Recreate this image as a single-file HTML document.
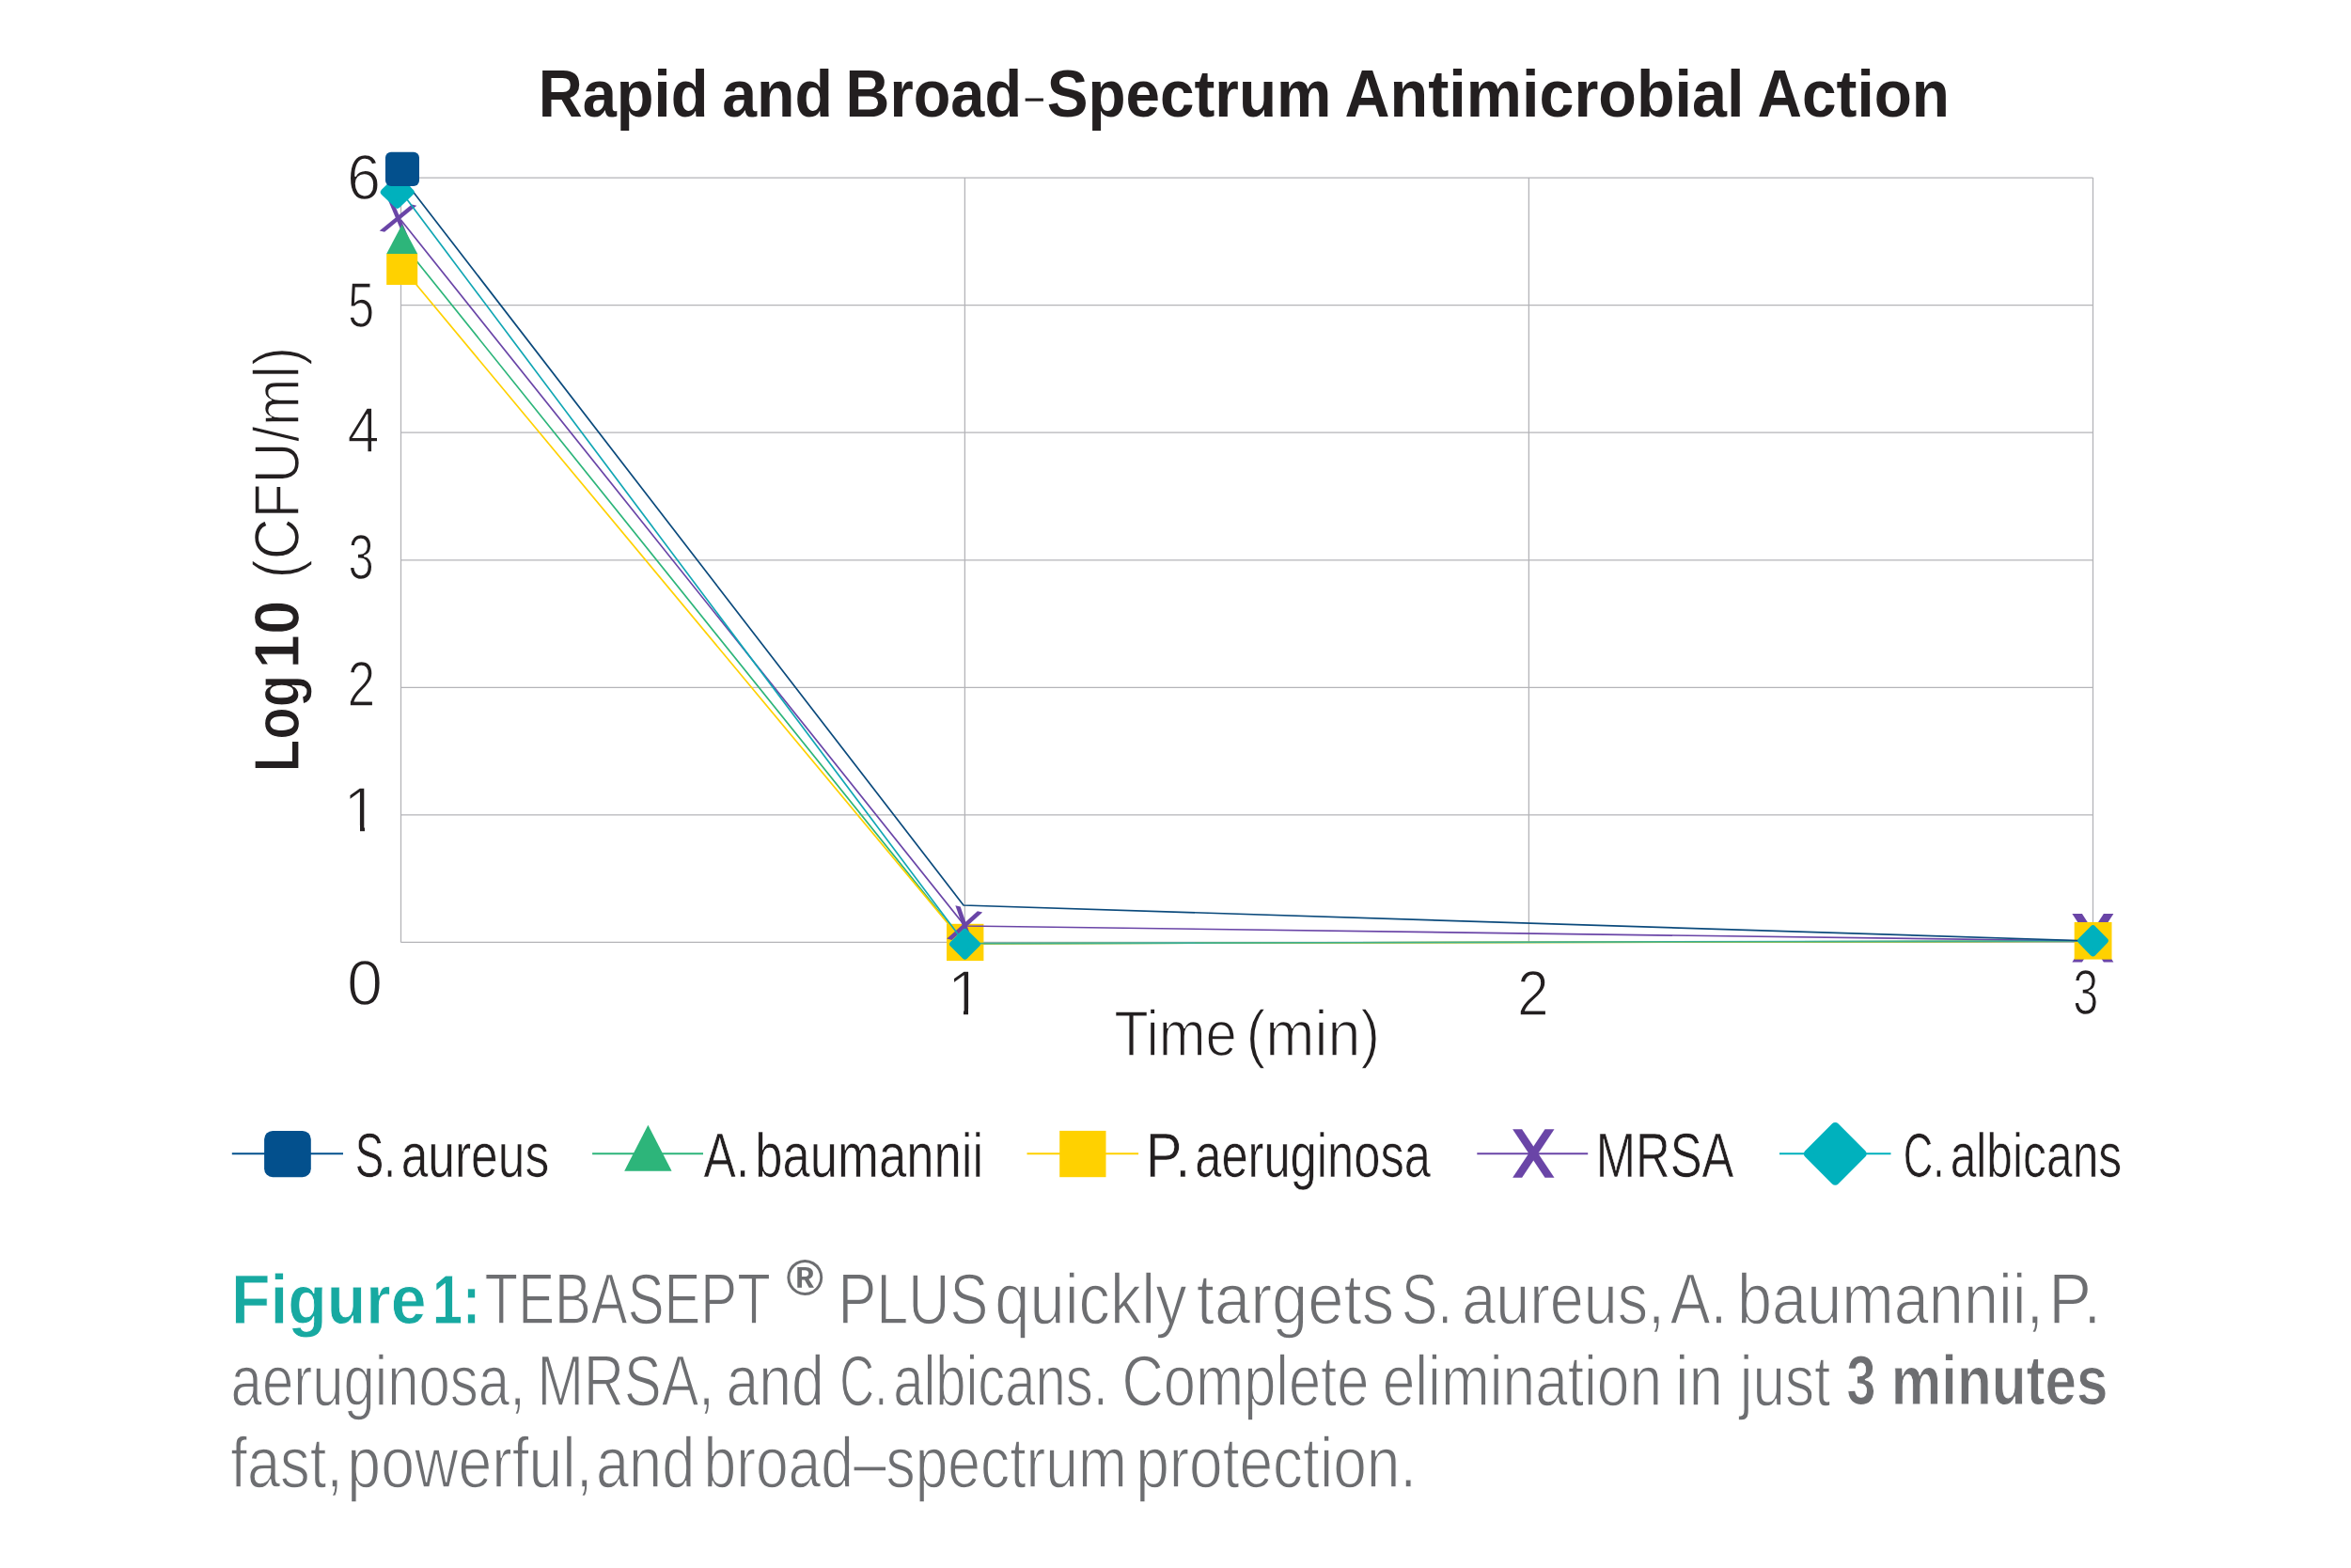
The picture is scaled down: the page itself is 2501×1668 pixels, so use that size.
<!DOCTYPE html>
<html><head><meta charset="utf-8"><title>Rapid and Broad-Spectrum Antimicrobial Action</title>
<style>
html,body{margin:0;padding:0;background:#fff;}
body{width:2501px;height:1668px;position:relative;overflow:hidden;font-family:"Liberation Sans",sans-serif;}
.w{position:absolute;background:#fff;}
.t{position:absolute;left:0;top:0;white-space:nowrap;line-height:1;transform-origin:0 0;display:block;}
</style></head><body>
<svg width="2501" height="1668" viewBox="0 0 2501 1668" style="position:absolute;left:0;top:0">
<g stroke="#b4b4b8" stroke-width="1.3" fill="none">
<line x1="426.5" y1="189.10" x2="2226.5" y2="189.10"/>
<line x1="426.5" y1="324.66" x2="2226.5" y2="324.66"/>
<line x1="426.5" y1="460.22" x2="2226.5" y2="460.22"/>
<line x1="426.5" y1="595.78" x2="2226.5" y2="595.78"/>
<line x1="426.5" y1="731.34" x2="2226.5" y2="731.34"/>
<line x1="426.5" y1="866.90" x2="2226.5" y2="866.90"/>
<line x1="426.5" y1="1002.46" x2="2226.5" y2="1002.46"/>
<line x1="426.5" y1="189.10" x2="426.5" y2="1002.46"/>
<line x1="1026.4" y1="189.10" x2="1026.4" y2="1002.46"/>
<line x1="1626.4" y1="189.10" x2="1626.4" y2="1002.46"/>
<line x1="2226.5" y1="189.10" x2="2226.5" y2="1002.46"/>
</g>
<g transform="translate(2226.4,997.75) rotate(0)" fill="#6a45a7"><polygon points="-22.00,-25.75 -11.50,-25.75 22.00,25.75 11.50,25.75"/><polygon points="22.00,-25.75 11.50,-25.75 -22.00,25.75 -11.50,25.75"/></g>
<polyline fill="none" stroke-width="1.7" stroke="#2db57a" points="426.5,257 1026.2,1003.8 2226.5,1001.2"/>
<polyline fill="none" stroke-width="1.7" stroke="#ffd100" points="426.5,283 1026.2,1003.8 2226.5,1001.2"/>
<rect x="411.2" y="269.9" width="33" height="33.1" fill="#ffd100"/>
<rect x="1007" y="982.8" width="39.4" height="39.3" fill="#ffd100"/>
<rect x="2206.7" y="981" width="39.8" height="39.6" fill="#ffd100"/>
<g transform="translate(423.5,232.2) rotate(13.9)" fill="#6a45a7"><polygon points="-16.00,-17.70 -10.50,-17.70 16.00,17.70 10.50,17.70"/><polygon points="16.00,-17.70 10.50,-17.70 -16.00,17.70 -10.50,17.70"/></g>
<g transform="translate(1026.2,984.6) rotate(14.5)" fill="#6a45a7"><polygon points="-14.90,-18.30 -9.40,-18.30 14.90,18.30 9.40,18.30"/><polygon points="14.90,-18.30 9.40,-18.30 -14.90,18.30 -9.40,18.30"/></g>
<polygon points="427.6,238.9 444.2,270 411.2,270" fill="#2db57a"/>
<g fill="none" stroke-width="1.7" stroke-linejoin="miter">
<polyline stroke="#6a45a7" points="426.5,234 1026.4,985 2226.5,1001"/>
<polyline stroke="#10a6b4" points="426.5,203.5 1026.4,1003.6"/>
<polyline stroke="#10a6b4" stroke-opacity="0.8" points="1026.4,1003.6 2226.5,1001"/>
</g>
<polyline fill="none" stroke="#0b4a7c" stroke-width="1.7" points="427.5,188.4 1025,963 2226.5,1001"/>
<polygon points="422.7,190.6 437.1,204.4 422.7,218.2 408.3,204.4" fill="#00b1bd" stroke="#00b1bd" stroke-width="7.00" stroke-linejoin="round"/>
<polygon points="1026.5,991.2 1039.7,1004.3 1026.5,1017.4 1013.3,1004.3" fill="#00b1bd" stroke="#00b1bd" stroke-width="6.40" stroke-linejoin="round"/>
<polygon points="2226.5,987.4 2239.6,1000.8 2226.5,1014.2 2213.4,1000.8" fill="#00b1bd" stroke="#00b1bd" stroke-width="6.40" stroke-linejoin="round"/>
<rect x="410" y="161.7" width="36" height="36.3" rx="6" fill="#03508d"/>
<g stroke-width="2" fill="none">
<line x1="246.8" y1="1227.3" x2="365" y2="1227.3" stroke="#03508d"/>
<line x1="630.1" y1="1227.3" x2="748" y2="1227.3" stroke="#2db57a"/>
<line x1="1092.5" y1="1227.3" x2="1211.1" y2="1227.3" stroke="#ffd100"/>
<line x1="1571.3" y1="1227.3" x2="1689.2" y2="1227.3" stroke="#6a45a7"/>
<line x1="1893" y1="1227.3" x2="2011.5" y2="1227.3" stroke="#00b1bd"/>
</g>
<rect x="281.1" y="1202.9" width="49.7" height="49.3" rx="9" fill="#03508d"/>
<polygon points="689.4,1196.8 714.6,1245.7 664.2,1245.7" fill="#2db57a"/>
<rect x="1127.2" y="1202.9" width="49.3" height="49.3" fill="#ffd100"/>
<g transform="translate(1631.3,1227) rotate(0)" fill="#6a45a7"><polygon points="-22.20,-25.70 -12.20,-25.70 22.20,25.70 12.20,25.70"/><polygon points="22.20,-25.70 12.20,-25.70 -22.20,25.70 -12.20,25.70"/></g>
<polygon points="1952.3,1198.5 1981.2,1227.4 1952.3,1256.3 1923.4,1227.4" fill="#00b1bd" stroke="#00b1bd" stroke-width="9.00" stroke-linejoin="round"/>
</svg>
<span class="t" style="font-size:70.01px;color:#231f20;font-weight:700;transform:translate(572.67px,65.00px) scale(0.9297,1);">Rapid</span>
<span class="t" style="font-size:70.01px;color:#231f20;font-weight:700;transform:translate(768.24px,65.00px) scale(0.9465,1);">and</span>
<span class="t" style="font-size:70.01px;color:#231f20;font-weight:700;transform:translate(899.58px,65.00px) scale(0.9269,1);">Broad</span>
<span class="t" style="font-size:73.89px;color:#231f20;-webkit-text-stroke:2.7px #fff;transform:translate(1084.67px,64.00px) scale(1.2617,1);">-</span>
<span class="t" style="font-size:70.01px;color:#231f20;font-weight:700;transform:translate(1113.66px,65.00px) scale(0.9374,1);">Spectrum</span>
<span class="t" style="font-size:70.01px;color:#231f20;font-weight:700;transform:translate(1430.47px,65.00px) scale(0.9503,1);">Antimicrobial</span>
<span class="t" style="font-size:70.01px;color:#231f20;font-weight:700;transform:translate(1869.38px,65.00px) scale(0.9399,1);">Action</span>
<span class="t" style="font-size:67.72px;color:#231f20;-webkit-text-stroke:1.5px #fff;transform:translate(369.04px,155.00px) scale(0.9570,1);">6</span>
<span class="t" style="font-size:67.72px;color:#231f20;-webkit-text-stroke:1.5px #fff;transform:translate(369.91px,291.00px) scale(0.7500,1);">5</span>
<span class="t" style="font-size:67.72px;color:#231f20;-webkit-text-stroke:1.5px #fff;transform:translate(369.50px,424.00px) scale(0.9020,1);">4</span>
<span class="t" style="font-size:67.72px;color:#231f20;-webkit-text-stroke:1.5px #fff;transform:translate(370.45px,559.00px) scale(0.7225,1);">3</span>
<span class="t" style="font-size:67.72px;color:#231f20;-webkit-text-stroke:1.5px #fff;transform:translate(369.44px,694.00px) scale(0.7892,1);">2</span>
<span class="t" style="font-size:67.72px;color:#231f20;-webkit-text-stroke:1.5px #fff;transform:translate(365.30px,828.00px) scale(0.9923,1);">1</span>
<div class="w" style="left:365.3px;top:878.4px;width:17.3px;height:9px"></div>
<div class="w" style="left:387.6px;top:878.4px;width:13.4px;height:9px"></div>
<span class="t" style="font-size:67.72px;color:#231f20;-webkit-text-stroke:1.5px #fff;transform:translate(368.94px,1012.00px) scale(1.0114,1);">0</span>
<span class="t" style="font-size:67.72px;color:#231f20;-webkit-text-stroke:1.5px #fff;transform:translate(1007.63px,1023.00px) scale(1.0042,1);">1</span>
<div class="w" style="left:1007.6px;top:1072.8px;width:17.6px;height:9px"></div>
<div class="w" style="left:1030.2px;top:1072.8px;width:13.6px;height:9px"></div>
<span class="t" style="font-size:67.72px;color:#231f20;-webkit-text-stroke:1.5px #fff;transform:translate(1613.90px,1023.00px) scale(0.8937,1);">2</span>
<span class="t" style="font-size:67.72px;color:#231f20;-webkit-text-stroke:1.5px #fff;transform:translate(2205.36px,1022.00px) scale(0.7192,1);">3</span>
<span class="t" style="font-size:68.01px;color:#231f20;-webkit-text-stroke:1.5px #fff;transform:translate(1185.14px,1065.00px) scale(0.8794,1);">Time</span>
<span class="t" style="font-size:68.01px;color:#231f20;-webkit-text-stroke:1.5px #fff;transform:translate(1325.45px,1065.00px) scale(0.9219,1);">(min)</span>
<span class="t" style="font-size:68.01px;color:#231f20;font-weight:700;-webkit-text-stroke:1.2px #fff;transform:translate(260.00px,821.16px) rotate(-90deg) scale(0.8295,1);">Log</span>
<span class="t" style="font-size:68.01px;color:#231f20;font-weight:700;-webkit-text-stroke:1.2px #fff;transform:translate(260.00px,711.51px) rotate(-90deg) scale(0.9631,1);">10</span>
<span class="t" style="font-size:68.44px;color:#231f20;-webkit-text-stroke:1.5px #fff;transform:translate(261.00px,615.62px) rotate(-90deg) scale(0.8896,1);">(CFU/ml)</span>
<span class="t" style="font-size:67.29px;color:#231f20;-webkit-text-stroke:0.7px #fff;transform:translate(377.80px,1195.00px) scale(0.6804,1);">S.</span>
<span class="t" style="font-size:67.29px;color:#231f20;-webkit-text-stroke:0.7px #fff;transform:translate(426.67px,1195.00px) scale(0.7655,1);">aureus</span>
<span class="t" style="font-size:67.29px;color:#231f20;-webkit-text-stroke:0.7px #fff;transform:translate(748.53px,1195.00px) scale(0.7654,1);">A.</span>
<span class="t" style="font-size:67.29px;color:#231f20;-webkit-text-stroke:0.7px #fff;transform:translate(803.27px,1195.00px) scale(0.7825,1);">baumannii</span>
<span class="t" style="font-size:67.29px;color:#231f20;-webkit-text-stroke:0.7px #fff;transform:translate(1218.84px,1195.00px) scale(0.8646,1);">P.</span>
<span class="t" style="font-size:67.29px;color:#231f20;-webkit-text-stroke:0.7px #fff;transform:translate(1271.21px,1195.00px) scale(0.7531,1);">aeruginosa</span>
<span class="t" style="font-size:67.29px;color:#231f20;-webkit-text-stroke:0.7px #fff;transform:translate(1697.67px,1195.00px) scale(0.7548,1);">MRSA</span>
<span class="t" style="font-size:67.29px;color:#231f20;-webkit-text-stroke:0.7px #fff;transform:translate(2024.79px,1195.00px) scale(0.6491,1);">C.</span>
<span class="t" style="font-size:67.29px;color:#231f20;-webkit-text-stroke:0.7px #fff;transform:translate(2074.65px,1195.00px) scale(0.7394,1);">albicans</span>
<span class="t" style="font-size:74.75px;color:#17a9a1;font-weight:700;-webkit-text-stroke:0.9px #fff;transform:translate(245.98px,1345.00px) scale(0.9082,1);">Figure</span>
<span class="t" style="font-size:74.75px;color:#17a9a1;font-weight:700;-webkit-text-stroke:0.9px #fff;transform:translate(459.90px,1345.00px) scale(0.7704,1);">1:</span>
<span class="t" style="font-size:75.47px;color:#6d6e71;-webkit-text-stroke:1.4px #fff;transform:translate(515.60px,1345.00px) scale(0.7716,1);">TEBASEPT</span>
<span class="t" style="font-size:53.24px;color:#6d6e71;font-weight:700;transform:translate(836.60px,1333.00px) scale(1.0079,1);">®</span>
<span class="t" style="font-size:75.47px;color:#6d6e71;-webkit-text-stroke:1.4px #fff;transform:translate(891.54px,1345.00px) scale(0.8106,1);">PLUS</span>
<span class="t" style="font-size:75.47px;color:#6d6e71;-webkit-text-stroke:1.4px #fff;transform:translate(1058.31px,1345.00px) scale(0.8857,1);">quickly</span>
<span class="t" style="font-size:75.47px;color:#6d6e71;-webkit-text-stroke:1.4px #fff;transform:translate(1272.83px,1345.00px) scale(0.9112,1);">targets</span>
<span class="t" style="font-size:75.47px;color:#6d6e71;-webkit-text-stroke:1.4px #fff;transform:translate(1490.89px,1345.00px) scale(0.7599,1);">S.</span>
<span class="t" style="font-size:75.47px;color:#6d6e71;-webkit-text-stroke:1.4px #fff;transform:translate(1555.31px,1345.00px) scale(0.8572,1);">aureus,</span>
<span class="t" style="font-size:75.47px;color:#6d6e71;-webkit-text-stroke:1.4px #fff;transform:translate(1776.70px,1345.00px) scale(0.8519,1);">A.</span>
<span class="t" style="font-size:75.47px;color:#6d6e71;-webkit-text-stroke:1.4px #fff;transform:translate(1847.98px,1345.00px) scale(0.8833,1);">baumannii,</span>
<span class="t" style="font-size:75.47px;color:#6d6e71;-webkit-text-stroke:1.4px #fff;transform:translate(2179.37px,1345.00px) scale(0.9093,1);">P.</span>
<span class="t" style="font-size:75.47px;color:#6d6e71;-webkit-text-stroke:1.4px #fff;transform:translate(245.55px,1432.00px) scale(0.7943,1);">aeruginosa,</span>
<span class="t" style="font-size:75.47px;color:#6d6e71;-webkit-text-stroke:1.4px #fff;transform:translate(571.60px,1432.00px) scale(0.7873,1);">MRSA,</span>
<span class="t" style="font-size:75.47px;color:#6d6e71;-webkit-text-stroke:1.4px #fff;transform:translate(772.42px,1432.00px) scale(0.8274,1);">and</span>
<span class="t" style="font-size:75.47px;color:#6d6e71;-webkit-text-stroke:1.4px #fff;transform:translate(893.37px,1432.00px) scale(0.6770,1);">C.</span>
<span class="t" style="font-size:75.47px;color:#6d6e71;-webkit-text-stroke:1.4px #fff;transform:translate(950.14px,1432.00px) scale(0.7681,1);">albicans.</span>
<span class="t" style="font-size:75.47px;color:#6d6e71;-webkit-text-stroke:1.4px #fff;transform:translate(1193.46px,1432.00px) scale(0.8138,1);">Complete</span>
<span class="t" style="font-size:75.47px;color:#6d6e71;-webkit-text-stroke:1.4px #fff;transform:translate(1470.63px,1432.00px) scale(0.8245,1);">elimination</span>
<span class="t" style="font-size:75.47px;color:#6d6e71;-webkit-text-stroke:1.4px #fff;transform:translate(1781.91px,1432.00px) scale(0.8721,1);">in</span>
<span class="t" style="font-size:75.47px;color:#6d6e71;-webkit-text-stroke:1.4px #fff;transform:translate(1850.68px,1432.00px) scale(0.8232,1);">just</span>
<span class="t" style="font-size:74.89px;color:#6d6e71;font-weight:700;-webkit-text-stroke:1.0px #fff;transform:translate(1964.51px,1431.00px) scale(0.7436,1);">3</span>
<span class="t" style="font-size:74.89px;color:#6d6e71;font-weight:700;-webkit-text-stroke:1.0px #fff;transform:translate(2011.79px,1431.00px) scale(0.8038,1);">minutes</span>
<span class="t" style="font-size:75.47px;color:#6d6e71;-webkit-text-stroke:1.4px #fff;transform:translate(245.28px,1519.00px) scale(0.8392,1);">fast,</span>
<span class="t" style="font-size:75.47px;color:#6d6e71;-webkit-text-stroke:1.4px #fff;transform:translate(369.34px,1519.00px) scale(0.8530,1);">powerful,</span>
<span class="t" style="font-size:75.47px;color:#6d6e71;-webkit-text-stroke:1.4px #fff;transform:translate(633.99px,1519.00px) scale(0.8359,1);">and</span>
<span class="t" style="font-size:75.47px;color:#6d6e71;-webkit-text-stroke:1.4px #fff;transform:translate(748.48px,1519.00px) scale(0.8258,1);">broad–spectrum</span>
<span class="t" style="font-size:75.47px;color:#6d6e71;-webkit-text-stroke:1.4px #fff;transform:translate(1208.16px,1519.00px) scale(0.8484,1);">protection.</span>
</body></html>
